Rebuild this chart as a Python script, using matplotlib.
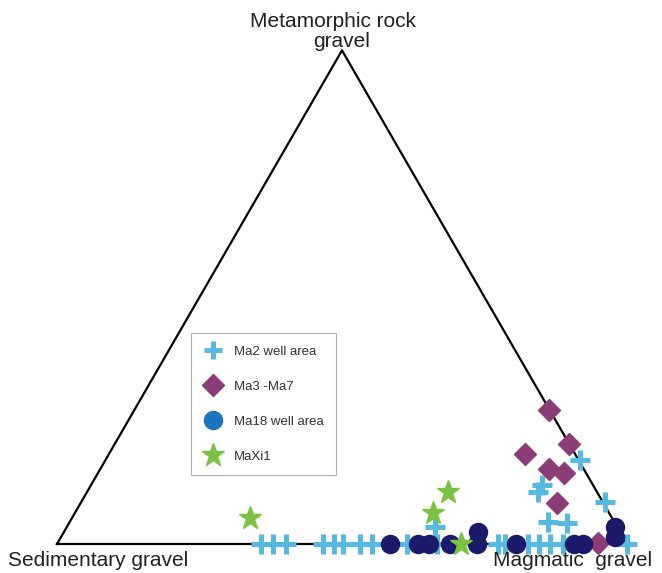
import numpy as np
import matplotlib
matplotlib.use("Agg")
import matplotlib.pyplot as plt
from matplotlib.lines import Line2D

plt.rcParams["font.family"] = ["Liberation Sans", "DejaVu Sans"]

# ternary data in percent: (magmatic, metamorphic); sedimentary = 100 - rest
ma2_mag = [35.8, 37.9, 40.2, 46.7, 48.6, 50.2, 53.2, 55.3, 61.4, 66.7, 77.4, 78.6,
           82.6, 84.6, 86.5, 88.8, 100.0, 64.6, 83.9, 87.4, 79.1, 79.1, 83.3, 91.9]
ma2_met = [0, 0, 0, 0, 0, 0, 0, 0, 0, 0, 0, 0,
           0, 0, 0, 0, 0, 3.4, 4.5, 4.3, 11.9, 10.5, 17.0, 8.5]

ma37_mag = [72.7, 79.7, 73.0, 78.7, 81.7, 83.6, 94.8]
ma37_met = [27.1, 20.2, 18.2, 15.2, 14.4, 8.3, 0.2]

ma18_mag = [58.4, 63.3, 65.3, 68.9, 73.7, 72.7, 80.5, 90.7, 92.3, 96.2, 97.2]
ma18_met = [0, 0, 0, 0, 0, 2.4, 0, 0, 0, 3.4, 1.4]

maxi_mag = [31.2, 62.8, 63.3, 70.9]
maxi_met = [5.3, 6.3, 10.5, 0]


def to_xy(mag, met):
    mag = np.array(mag, dtype=float)
    met = np.array(met, dtype=float)
    return mag + met / 2, met * np.sqrt(3) / 2


fig = plt.figure(figsize=(6.62, 5.73), dpi=100)
ax = fig.add_axes([0, 0, 1, 1])
ax.set_xlim(-10, 106.14)
ax.set_ylim(-5.09, 95.44)
ax.axis("off")

# triangle frame
tx = [0, 100, 50, 0]
ty = [0, 0, 50 * np.sqrt(3), 0]
ax.plot(tx, ty, color="black", lw=1.6, zorder=2)

blue = "#55b9e2"
purple = "#8c3d78"
navy = "#1c1a6b"
green = "#7cc242"

x, y = to_xy(ma2_mag, ma2_met)
ax.plot(x, y, ls="none", marker="+", ms=14, mew=3.6, color=blue, zorder=3)
x, y = to_xy(ma37_mag, ma37_met)
ax.plot(x, y, ls="none", marker="D", ms=11, color=purple, zorder=4)
x, y = to_xy(ma18_mag, ma18_met)
ax.plot(x, y, ls="none", marker="o", ms=13, color=navy, zorder=5)
x, y = to_xy(maxi_mag, maxi_met)
ax.plot(x, y, ls="none", marker="*", ms=17, color=green, zorder=6)

# corner labels
txt = "#222222"
ax.text(48.4, 90.7, "Metamorphic rock", ha="center", va="baseline", fontsize=15, color=txt)
ax.text(50, 87.2, "gravel", ha="center", va="baseline", fontsize=15, color=txt)
ax.text(-8.6, -3.86, "Sedimentary gravel", ha="left", va="baseline", fontsize=15, color=txt)
ax.text(76.5, -3.86, "Magmatic  gravel", ha="left", va="baseline", fontsize=15, color=txt)

handles = [
    Line2D([], [], ls="none", marker="+", ms=13, mew=3.6, color=blue),
    Line2D([], [], ls="none", marker="D", ms=11, color=purple),
    Line2D([], [], ls="none", marker="o", ms=13, color="#1b75bc"),
    Line2D([], [], ls="none", marker="*", ms=17, color=green),
]
labels = ["Ma2 well area", "Ma3 -Ma7", "Ma18 well area", "MaXi1"]
leg = ax.legend(handles, labels, loc="upper left", bbox_to_anchor=(191 / 662, 1 - 333 / 573),
                bbox_transform=fig.transFigure, fontsize=9.5, frameon=True, fancybox=False,
                edgecolor="#999999", labelspacing=1.72, borderpad=0.95, handletextpad=0.9,
                handlelength=1.4, borderaxespad=0)
leg.get_frame().set_linewidth(0.8)
for t in leg.get_texts():
    t.set_color("#333333")

fig.savefig("out.png", dpi=100)
